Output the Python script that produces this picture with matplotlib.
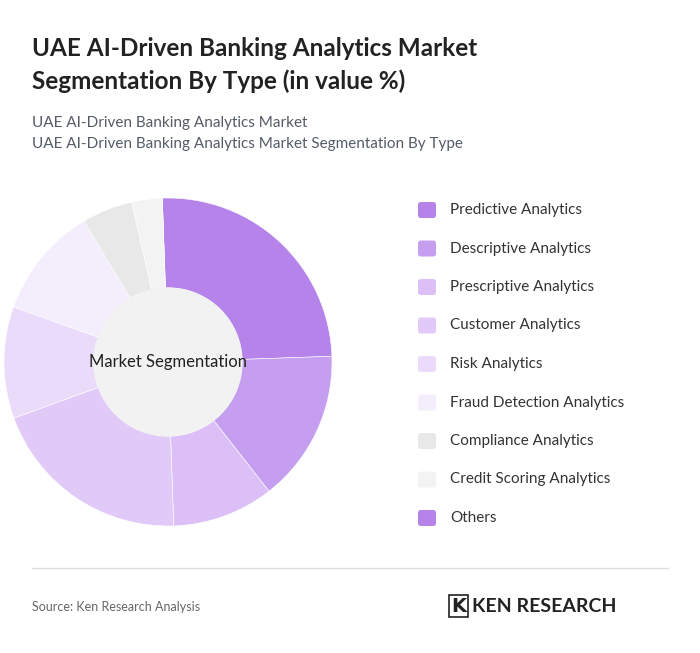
import matplotlib.pyplot as plt
from matplotlib.patches import Circle, FancyBboxPatch

categories = ["Predictive Analytics","Descriptive Analytics","Prescriptive Analytics","Customer Analytics",
              "Risk Analytics","Fraud Detection Analytics","Compliance Analytics","Credit Scoring Analytics","Others"]
values = [25, 15, 10, 20, 11, 11, 5, 3, 0]
colors = ["#b583ea","#c69ef0","#dbbff6","#e1caf7","#ebdbfa","#f4edfc","#e8e8e8","#f3f3f3","#b583ea"]

W, H = 700, 653
fig = plt.figure(figsize=(W/100, H/100), dpi=100)
fig.patch.set_facecolor("white")

fig.text(32/W, 1-49/H, "UAE AI-Driven Banking Analytics Market", fontsize=17.5, fontweight="bold",
         color="#222222", family="Lato", va="center")
fig.text(32/W, 1-81/H, "Segmentation By Type (in value %)", fontsize=17.5, fontweight="bold",
         color="#222222", family="Lato", va="center")
fig.text(32/W, 1-123/H, "UAE AI-Driven Banking Analytics Market", fontsize=11, color="#555c66", family="Lato", va="center")
fig.text(32/W, 1-144/H, "UAE AI-Driven Banking Analytics Market Segmentation By Type", fontsize=11, color="#555c66", family="Lato", va="center")

cx, cy, R = 168, 362, 164
ax = fig.add_axes([(cx-R)/W, 1-(cy+R)/H, 2*R/W, 2*R/H])
ax.pie(values, colors=colors, startangle=92, counterclock=False, radius=1,
       wedgeprops=dict(width=1-74/164, edgecolor="white", linewidth=0.4))
ax.add_patch(Circle((0, 0), 74/164, color="#f2f2f2", zorder=3))
ax.text(0, 0, "Market Segmentation", ha="center", va="center", fontsize=12, color="#222222",
        family="Lato", zorder=4)
ax.set_xlim(-1, 1); ax.set_ylim(-1, 1); ax.set_aspect("equal"); ax.axis("off")

for i, (c, col) in enumerate(zip(categories, colors)):
    y = 210 + i*38.5
    fig.patches.append(FancyBboxPatch((418/W, 1-(y+8)/H), 18/W, 16/H, boxstyle="round,pad=0,rounding_size=0.004",
                                      transform=fig.transFigure, facecolor=col, edgecolor="none"))
    fig.text(450/W, 1-y/H, c, fontsize=11, color="#333333", family="Lato", va="center")

fig.add_artist(plt.Line2D([32/W, 668/W], [1-568/H, 1-568/H], color="#dddddd", lw=1))
fig.text(32/W, 1-607/H, "Source: Ken Research Analysis", fontsize=9, color="#666666", family="Lato", va="center")
fig.text(472/W, 1-606/H, "KEN RESEARCH", fontsize=14, fontweight="bold", color="#222222", family="Lato", va="center")
fig.text(451/W, 1-606/H, "K", fontsize=14, fontweight="bold", color="#222222", family="DejaVu Sans", va="center",
         bbox=dict(boxstyle="square,pad=0.1", fc="white", ec="#222222", lw=1.2))

fig.savefig("out.png", dpi=100, facecolor="white")
